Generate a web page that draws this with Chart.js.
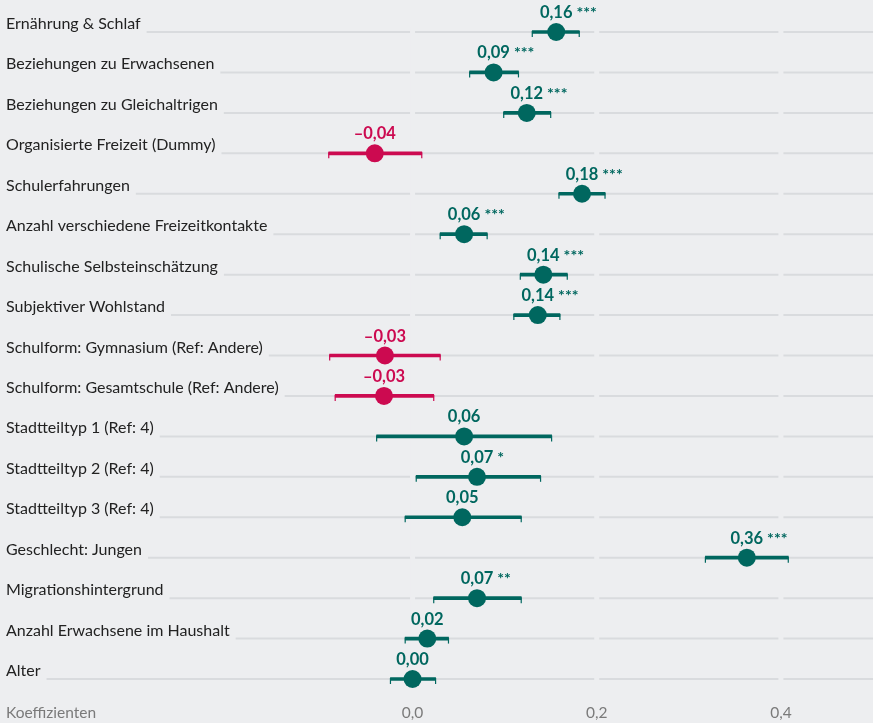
<!DOCTYPE html>
<html lang="de">
<head>
<meta charset="utf-8">
<script src="https://cdn.jsdelivr.net/npm/chart.js@4.4.1/dist/chart.umd.min.js"></script>
<style>
  html, body { margin: 0; padding: 0; background: #edeef0; }
  #wrap { width: 873px; height: 723px; position: relative; }
</style>
</head>
<body>
<div id="wrap"><canvas id="coefChart"></canvas></div>
<script>
// Zeilen (von oben nach unten)
const categories = [
    'Ernährung & Schlaf',
    'Beziehungen zu Erwachsenen',
    'Beziehungen zu Gleichaltrigen',
    'Organisierte Freizeit (Dummy)',
    'Schulerfahrungen',
    'Anzahl verschiedene Freizeitkontakte',
    'Schulische Selbsteinschätzung',
    'Subjektiver Wohlstand',
    'Schulform: Gymnasium (Ref: Andere)',
    'Schulform: Gesamtschule (Ref: Andere)',
    'Stadtteiltyp 1 (Ref: 4)',
    'Stadtteiltyp 2 (Ref: 4)',
    'Stadtteiltyp 3 (Ref: 4)',
    'Geschlecht: Jungen',
    'Migrationshintergrund',
    'Anzahl Erwachsene im Haushalt',
    'Alter'
];
const coefs  = [0.156, 0.088, 0.124, -0.041, 0.184, 0.056, 0.142, 0.136, -0.030, -0.031, 0.056, 0.070, 0.054, 0.363, 0.070, 0.016, 0.000];
const ciLow  = [0.130, 0.062, 0.099, -0.091, 0.159, 0.030, 0.117, 0.110, -0.090, -0.084, -0.039, 0.004, -0.008, 0.318, 0.023, -0.008, -0.024];
const ciHigh = [0.181, 0.115, 0.150, 0.010, 0.209, 0.081, 0.168, 0.160, 0.030, 0.023, 0.151, 0.139, 0.118, 0.408, 0.118, 0.039, 0.025];
const stars  = ['***', '***', '***', '', '***', '***', '***', '***', '', '', '', '*', '', '***', '**', '', ''];
const xTicks = [0, 0.2, 0.4];

const BG = '#edeef0';
const TEAL = '#00675f';
const RED = '#cc0a50';
const GRIDCOL = '#d9dbde';

const colors = coefs.map(v => v < 0 ? RED : TEAL);

function fmt(v) {
    const s = Math.abs(v).toFixed(2).replace('.', ',');
    return (v < 0 ? '\u2013' : '') + s;
}

// Zeilenbeschriftungen, Linien mit Lücken, Fehlerbalken-Enden, Wertelabels
const rowDecor = {
    id: 'rowDecor',
    beforeDatasetsDraw(chart) {
        const ctx = chart.ctx;
        const xs = chart.scales.x;
        const ys = chart.scales.y;
        const area = chart.chartArea;
        ctx.save();
        ctx.font = '16px Lato';
        ctx.textAlign = 'left';
        ctx.textBaseline = 'alphabetic';
        categories.forEach((c, i) => {
            const y = ys.getPixelForValue(i);
            const w = ctx.measureText(c).width;
            ctx.strokeStyle = GRIDCOL;
            ctx.lineWidth = 2;
            ctx.beginPath();
            ctx.moveTo(6 + w + 6, y);
            ctx.lineTo(area.right, y);
            ctx.stroke();
        });
        // Lücken an den x-Ticks
        ctx.fillStyle = BG;
        xTicks.forEach(v => {
            const px = xs.getPixelForValue(v);
            ctx.fillRect(px - 2.5, area.top - 5, 5, area.bottom - area.top + 10);
        });
        ctx.fillStyle = '#222';
        categories.forEach((c, i) => {
            const y = ys.getPixelForValue(i);
            ctx.fillText(c, 6, y - 3);
        });
        // Achsentitel links unten
        ctx.font = '15.5px Lato';
        ctx.fillStyle = '#7a7a7a';
        ctx.textBaseline = 'middle';
        ctx.fillText('Koeffizienten', 6, 713);
        ctx.restore();
    },
    afterDatasetsDraw(chart) {
        const ctx = chart.ctx;
        const xs = chart.scales.x;
        const pts = chart.getDatasetMeta(0).data;
        ctx.save();
        pts.forEach((p, i) => {
            // Enden der Fehlerbalken
            ctx.strokeStyle = colors[i];
            ctx.lineWidth = 1.2;
            [ciLow[i], ciHigh[i]].forEach(v => {
                const px = xs.getPixelForValue(v);
                ctx.beginPath();
                ctx.moveTo(px, p.y - 1);
                ctx.lineTo(px, p.y + 5);
                ctx.stroke();
            });
            // Wert
            const txt = fmt(coefs[i]);
            ctx.fillStyle = colors[i];
            ctx.font = 'bold 16.5px Lato';
            ctx.textAlign = 'center';
            ctx.textBaseline = 'alphabetic';
            const w = ctx.measureText(txt).width;
            ctx.fillText(txt, p.x, p.y - 14);
            if (stars[i]) {
                ctx.font = 'bold 16px Lato';
                ctx.textAlign = 'left';
                ctx.fillText(stars[i], p.x + w / 2 + 4, p.y - 14);
            }
        });
        ctx.restore();
    }
};

const ctx = document.getElementById('coefChart').getContext('2d');
window.coefChart = new Chart(ctx, {
    type: 'bar',
    data: {
        labels: categories,
        datasets: [{
            type: 'line',
            indexAxis: 'y',
            data: coefs,
            showLine: false,
            pointRadius: 9,
            pointHoverRadius: 9,
            pointBackgroundColor: colors,
            pointBorderWidth: 0,
            clip: false,
            order: 0
        }, {
            type: 'bar',
            indexAxis: 'y',
            data: ciLow.map((lo, i) => [lo, ciHigh[i]]),
            backgroundColor: colors,
            borderWidth: 0,
            borderSkipped: false,
            barThickness: 3,
            clip: false,
            order: 1
        }]
    },
    options: {
        indexAxis: 'y',
        responsive: true,
        maintainAspectRatio: false,
        devicePixelRatio: 1,
        animation: false,
        events: [],
        layout: { autoPadding: false, padding: { top: 32, left: 0, right: 0, bottom: 0 } },
        plugins: {
            legend: { display: false },
            tooltip: { enabled: false }
        },
        scales: {
            x: {
                type: 'linear',
                min: -0.448,
                max: 0.5,
                afterBuildTicks: s => { s.ticks = xTicks.map(v => ({ value: v })); },
                afterFit: s => { s.height = 44; },
                grid: { display: false, drawTicks: false },
                border: { display: false },
                ticks: {
                    padding: 25,
                    color: '#7a7a7a',
                    font: { family: 'Lato', size: 15.5 },
                    callback: v => v.toFixed(1).replace('.', ',')
                }
            },
            y: {
                type: 'category',
                offset: false,
                display: false,
                grid: { offset: false }
            }
        }
    },
    plugins: [rowDecor]
});
</script>
</body>
</html>
